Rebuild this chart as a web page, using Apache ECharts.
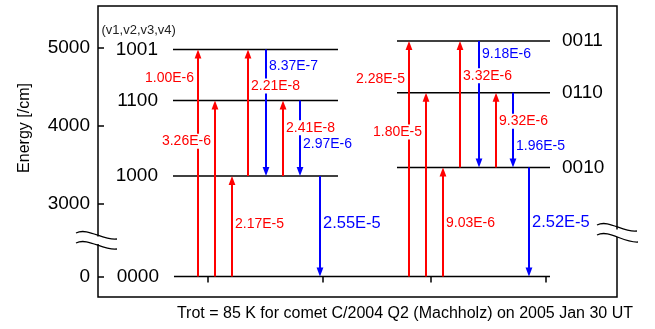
<!DOCTYPE html>
<html>
<head>
<meta charset="utf-8">
<script src="https://cdn.jsdelivr.net/npm/echarts@6/dist/echarts.min.js"></script>
<style>
  html, body { margin: 0; padding: 0; background: #fff; }
  #chart { width: 655px; height: 329px; }
</style>
</head>
<body>
<div id="chart"></div>
<script>
// Vibrational levels (v1,v2,v3,v4) and their energies in cm^-1
const levelNames    = ['0000', '1000', '1100', '1001', '0010', '0110', '0011'];
const levelEnergies = [0, 3350, 4320, 4975, 3460, 4420, 5085];

// Transitions between levels with their rates
const transFrom  = ['0000', '0000', '0000', '1000', '1001', '1000', '1100', '1000',
                    '0000', '0000', '0000', '0010', '0011', '0010', '0110', '0010'];
const transTo    = ['1001', '1100', '1000', '1001', '1000', '1100', '1000', '0000',
                    '0011', '0110', '0010', '0011', '0010', '0110', '0010', '0000'];
const transRates = ['1.00E-6', '3.26E-6', '2.17E-5', '2.21E-8', '8.37E-7', '2.41E-8', '2.97E-6', '2.55E-5',
                    '2.28E-5', '1.80E-5', '9.03E-6', '3.32E-6', '9.18E-6', '9.32E-6', '1.96E-5', '2.52E-5'];

// Energy axis tick labels
const energyTicks = [0, 3000, 4000, 5000];

// ---- layout (horizontal placement on a 0..100 scale, label placement) ----
const levelSpan = {
  '0000': [14.64, 87.09],
  '1000': [14.45, 46.24], '1100': [14.45, 46.24], '1001': [14.45, 46.24],
  '0010': [57.61, 87.09], '0110': [57.61, 87.09], '0011': [57.61, 87.09]
};
const levelLabelSide = {
  '0000': 'left', '1000': 'left', '1100': 'left', '1001': 'left',
  '0010': 'right', '0110': 'right', '0011': 'right'
};
const arrowSlot = [19.27, 22.54, 25.82, 28.90, 32.37, 35.65, 38.92, 42.77,
                   59.92, 63.20, 66.47, 69.75, 73.41, 76.69, 79.96, 83.04];
const labelSide = ['left', 'left', 'right', 'right', 'right', 'right', 'right', 'right',
                   'left', 'left', 'right', 'right', 'right', 'right', 'right', 'right'];
const labelAt   = [0.874, 0.768, 0.518, 0.712, 0.13, 0.64, 0.575, 0.474,
                   0.838, 0.786, 0.487, 0.724, 0.105, 0.617, 0.716, 0.507];
const topTicks = [21.2, 43.35, 64.16, 86.3];

const FONT = '"Liberation Sans", Arial, Helvetica, sans-serif';
const RED = '#ff0000';
const BLUE = '#0000ff';

const energyOf = name => levelEnergies[levelNames.indexOf(name)];

const levelData = levelNames.map((n, i) => [levelSpan[n][0], levelSpan[n][1], levelEnergies[i], i]);
const transData = transFrom.map((f, i) => [arrowSlot[i], energyOf(f), energyOf(transTo[i]), i]);

const chart = echarts.init(document.getElementById('chart'), null, { renderer: 'canvas' });

chart.setOption({
  animation: false,
  backgroundColor: '#fff',
  grid: { left: 98, right: 38, top: 6, bottom: 32, show: true, borderColor: '#000', borderWidth: 1.5, backgroundColor: 'transparent' },
  xAxis: {
    type: 'value', min: 0, max: 100, position: 'top',
    axisLine: { show: false },
    axisLabel: { show: false },
    splitLine: { show: false },
    axisTick: { show: true, inside: true, length: 6, lineStyle: { color: '#000', width: 1.5 }, customValues: topTicks }
  },
  yAxis: {
    type: 'value', min: -263, max: 5533,
    breaks: [{ start: 400, end: 2572, gap: 112 }],
    breakArea: { show: false, itemStyle: { opacity: 0 } },
    axisLine: { show: false },
    splitLine: { show: false },
    axisTick: { show: true, inside: true, length: 6, lineStyle: { color: '#000', width: 1.5 }, customValues: energyTicks },
    axisLabel: { show: true, margin: 8, color: '#000', fontSize: 19, fontFamily: FONT, customValues: energyTicks,
                 formatter: v => String(Math.round(v)) }
  },
  series: [
    {
      // energy level lines with their quantum-number labels
      type: 'custom',
      data: levelData,
      encode: { x: [0, 1], y: 2 },
      z: 2,
      renderItem: function (params, api) {
        const p1 = api.coord([api.value(0), api.value(2)]);
        const p2 = api.coord([api.value(1), api.value(2)]);
        const name = levelNames[api.value(3)];
        const left = levelLabelSide[name] === 'left';
        return {
          type: 'group',
          children: [
            { type: 'line', shape: { x1: p1[0], y1: p1[1], x2: p2[0], y2: p2[1] },
              style: { stroke: '#000', lineWidth: 1.5 } },
            { type: 'text', x: left ? p1[0] - 15 : p2[0] + 12, y: p1[1],
              style: { text: name, fill: '#000', font: '19px ' + FONT,
                       align: left ? 'right' : 'left', verticalAlign: 'middle' } }
          ]
        };
      }
    },
    {
      // transition arrows: absorption up in red, emission down in blue
      type: 'custom',
      data: transData,
      encode: { x: 0, y: [1, 2] },
      z: 3,
      renderItem: function (params, api) {
        const p1 = api.coord([api.value(0), api.value(1)]);
        const p2 = api.coord([api.value(0), api.value(2)]);
        const up = api.value(2) > api.value(1);
        const color = up ? RED : BLUE;
        const d = p2[1] > p1[1] ? 1 : -1;
        const headLen = 9, headHalf = 3.4;
        return {
          type: 'group',
          children: [
            { type: 'line', shape: { x1: p1[0], y1: p1[1], x2: p2[0], y2: p2[1] - d * (headLen - 1) },
              style: { stroke: color, lineWidth: 2 } },
            { type: 'polygon', shape: { points: [[p2[0], p2[1]], [p2[0] - headHalf, p2[1] - d * headLen], [p2[0] + headHalf, p2[1] - d * headLen]] },
              style: { fill: color } }
          ]
        };
      }
    },
    {
      // rate labels beside each arrow
      type: 'custom',
      data: transData,
      encode: { x: 0, y: [1, 2] },
      z: 5,
      renderItem: function (params, api) {
        const i = api.value(3);
        const p1 = api.coord([api.value(0), api.value(1)]);
        const p2 = api.coord([api.value(0), api.value(2)]);
        const up = api.value(2) > api.value(1);
        const toGround = transTo[i] === '0000';
        const y = p1[1] + labelAt[i] * (p2[1] - p1[1]);
        const left = labelSide[i] === 'left';
        return {
          type: 'text',
          x: left ? p1[0] - 3 : p1[0] + 2,
          y: y,
          style: {
            text: transRates[i], fill: up ? RED : BLUE,
            font: (toGround ? '16.5px ' : '14px ') + FONT,
            align: left ? 'right' : 'left', verticalAlign: 'middle',
            backgroundColor: '#fff', padding: [1, 1, 0, 1]
          }
        };
      }
    }
  ],
  graphic: [
    { type: 'text', x: 25, y: 128, rotation: Math.PI / 2,
      style: { text: 'Energy [/cm]', fill: '#000', font: '16px ' + FONT, align: 'center', verticalAlign: 'middle' } },
    { type: 'text', x: 101.5, y: 30,
      style: { text: '(v1,v2,v3,v4)', fill: '#222', font: '13px ' + FONT, align: 'left', verticalAlign: 'middle' } },
    { type: 'text', x: 633, y: 314,
      style: { text: 'Trot = 85 K for comet C/2004 Q2 (Machholz) on 2005 Jan 30 UT', fill: '#000', font: '16px ' + FONT, align: 'right', verticalAlign: 'middle' } },
    // axis break marks on the left frame
    { type: 'rect', z: 10, shape: { x: 94, y: 236.5, width: 6, height: 7.5 }, style: { fill: '#fff' } },
    { type: 'bezierCurve', z: 11, shape: { x1: 76, y1: 233, cpx1: 88, cpy1: 227, cpx2: 103, cpy2: 241, x2: 117, y2: 239 }, style: { stroke: '#000', lineWidth: 1.3, fill: null } },
    { type: 'bezierCurve', z: 11, shape: { x1: 76, y1: 243, cpx1: 88, cpy1: 237, cpx2: 103, cpy2: 251, x2: 117, y2: 249 }, style: { stroke: '#000', lineWidth: 1.3, fill: null } },
    // axis break marks on the right frame
    { type: 'rect', z: 10, shape: { x: 614, y: 229.5, width: 6, height: 7.5 }, style: { fill: '#fff' } },
    { type: 'bezierCurve', z: 11, shape: { x1: 597, y1: 225, cpx1: 609, cpy1: 219, cpx2: 623, cpy2: 233, x2: 637, y2: 231 }, style: { stroke: '#000', lineWidth: 1.3, fill: null } },
    { type: 'bezierCurve', z: 11, shape: { x1: 597, y1: 235, cpx1: 609, cpy1: 229, cpx2: 623, cpy2: 243, x2: 638, y2: 242 }, style: { stroke: '#000', lineWidth: 1.3, fill: null } }
  ]
});
</script>
</body>
</html>
